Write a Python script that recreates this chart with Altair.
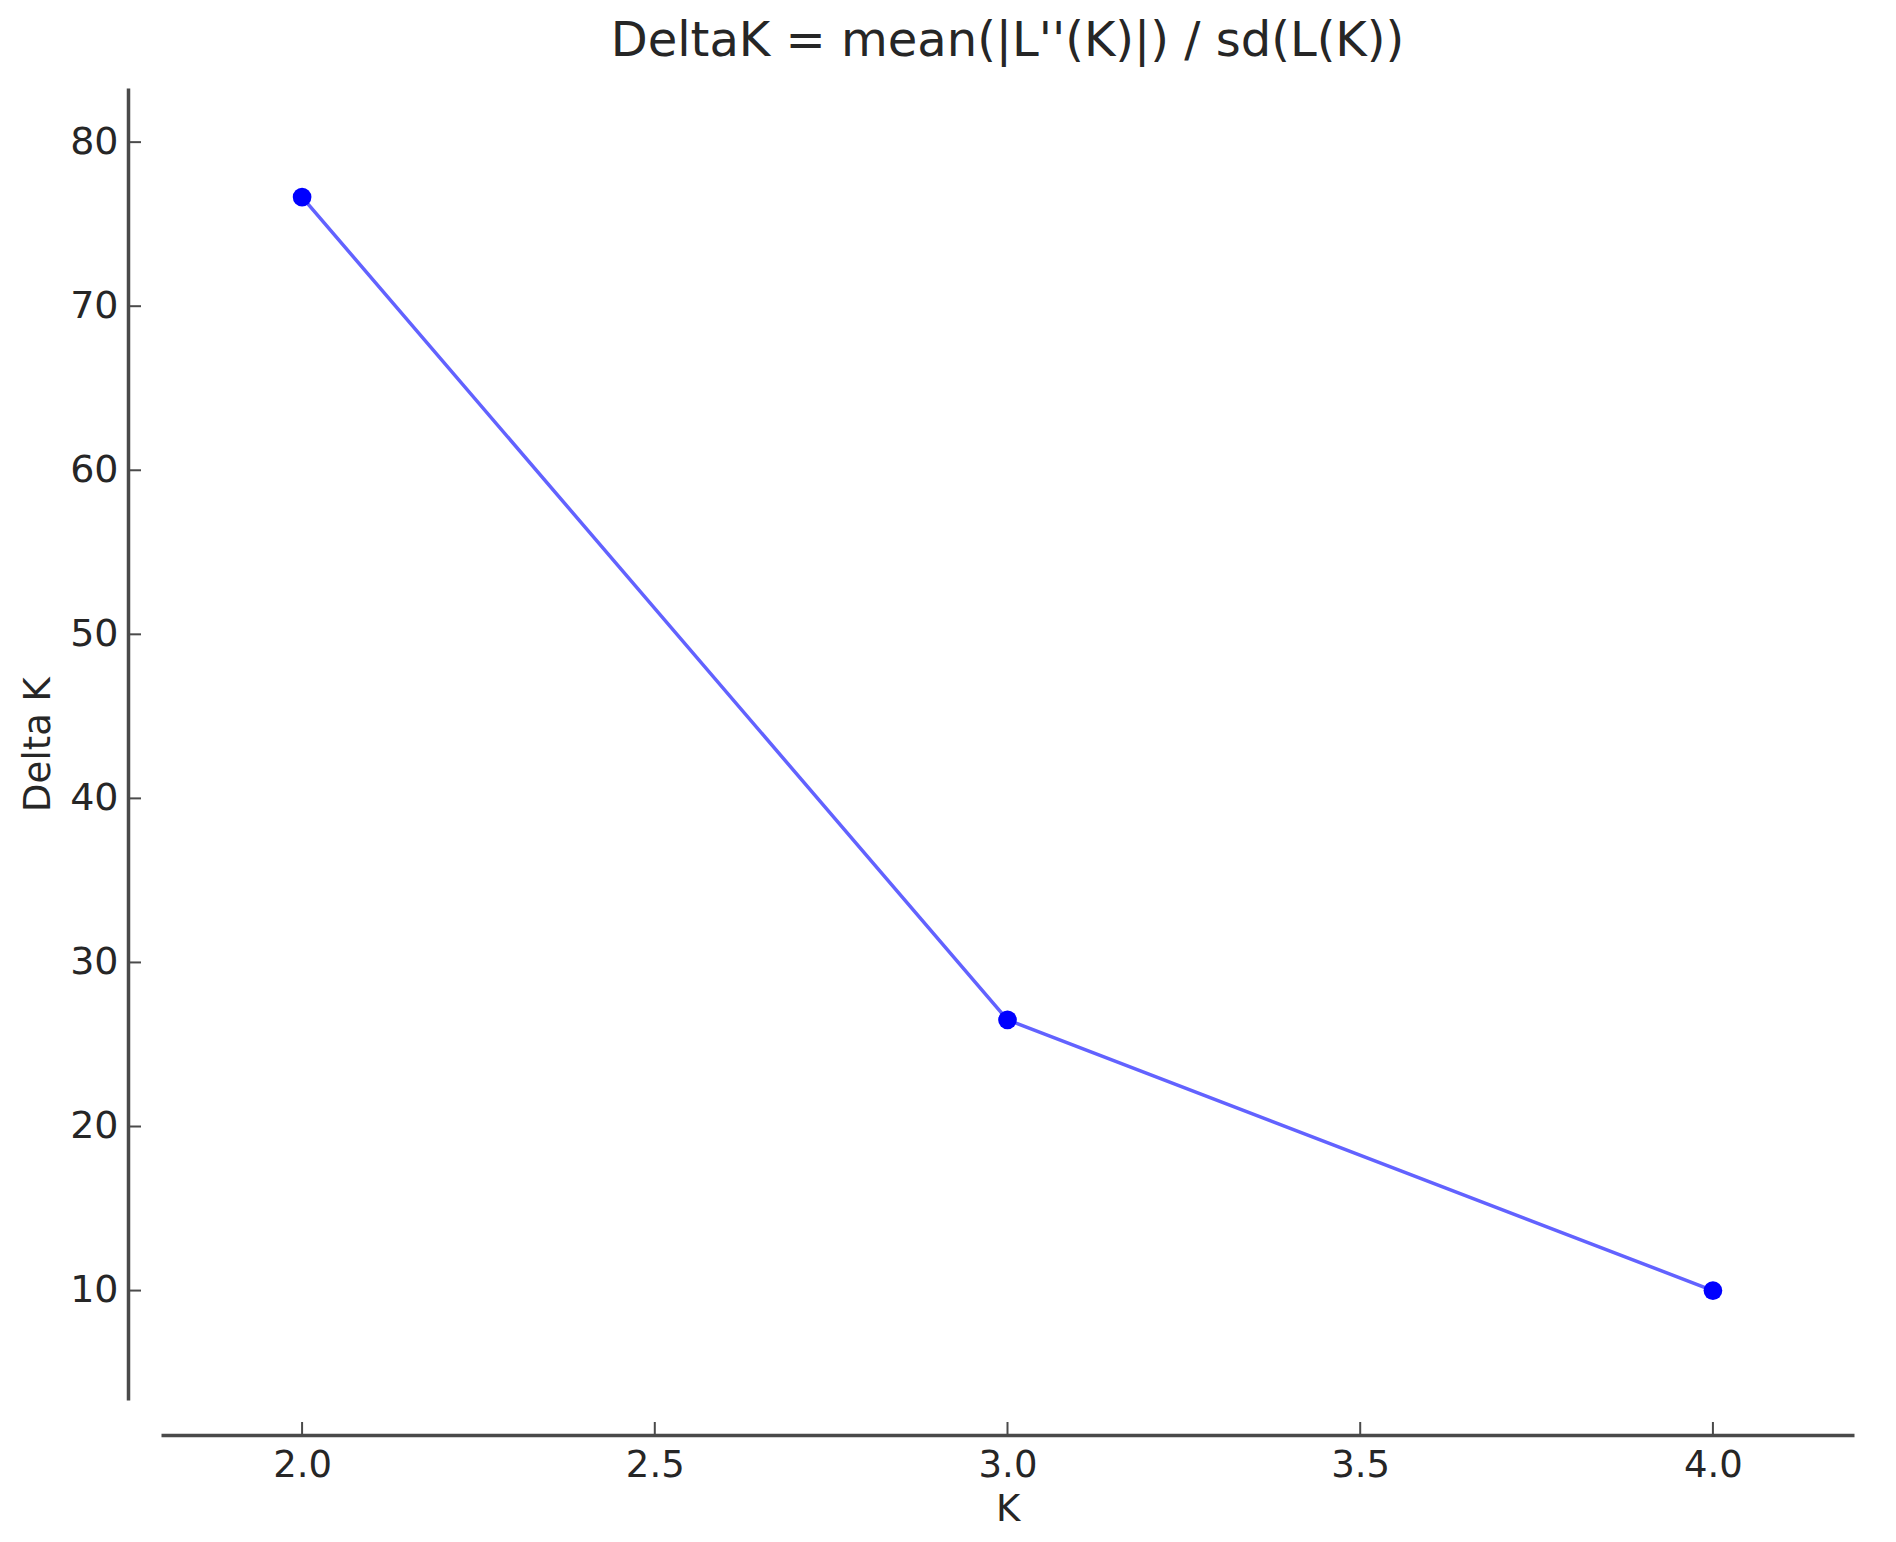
import altair as alt
import pandas as pd

K = [2, 3, 4]
delta_k = [76.65, 26.5, 10.0]
x_ticks = [2.0, 2.5, 3.0, 3.5, 4.0]
y_ticks = [10, 20, 30, 40, 50, 60, 70, 80]

df = pd.DataFrame({"K": K, "DeltaK": delta_k})
dfx = pd.DataFrame({"K": x_ticks})
dfy = pd.DataFrame({"DeltaK": y_ticks})

W, H = 1693, 1312
FONT = "DejaVu Sans"
AX = "#4a4a4a"
TXT = "#262626"

xscale = alt.Scale(domain=[1.8, 4.2], nice=False, zero=False)
yscale = alt.Scale(domain=[3.33, 83.3], nice=False, zero=False)

xaxis = alt.Axis(values=x_ticks, format=".1f", title="K", grid=False,
                 offset=35, tickSize=0, labelPadding=12, labelFontSize=37,
                 labelFont=FONT, labelColor=TXT, titleFont=FONT, titleFontSize=37,
                 titleFontWeight="normal", titleColor=TXT, titlePadding=8,
                 domainColor=AX, domainWidth=3.5)
yaxis = alt.Axis(values=y_ticks, format="d", title="Delta K", grid=False,
                 offset=33, tickSize=0, labelPadding=10, labelFontSize=38,
                 labelFont=FONT, labelColor=TXT, titleFont=FONT, titleFontSize=37,
                 titleFontWeight="normal", titleColor=TXT, titlePadding=12,
                 domainColor=AX, domainWidth=3.5)

base = alt.Chart(df)
line = base.mark_line(color="#6262ff", strokeWidth=3.5).encode(
    x=alt.X("K:Q", scale=xscale, axis=xaxis),
    y=alt.Y("DeltaK:Q", scale=yscale, axis=yaxis),
)
pts = base.mark_point(filled=True, color="#0000ff", size=350, opacity=1).encode(
    x=alt.X("K:Q", scale=xscale, axis=xaxis),
    y=alt.Y("DeltaK:Q", scale=yscale, axis=yaxis),
)

xt = alt.Chart(dfx).mark_rule(color=AX, strokeWidth=2).encode(
    x=alt.X("K:Q", scale=xscale, axis=xaxis),
    y=alt.value(H + 35),
    y2=alt.value(H + 35 - 13),
)
yt = alt.Chart(dfy).mark_rule(color=AX, strokeWidth=2).encode(
    y=alt.Y("DeltaK:Q", scale=yscale, axis=yaxis),
    x=alt.value(-33),
    x2=alt.value(-20),
)

chart = alt.layer(line, pts, xt, yt).properties(
    width=W, height=H,
    background="white",
    title=alt.Title("DeltaK = mean(|L''(K)|) / sd(L(K))", font=FONT, fontSize=48,
                    fontWeight="normal", color=TXT, anchor="middle", offset=22),
    autosize=alt.AutoSizeParams(type="none"),
    padding={"left": 153, "top": 80, "right": 34, "bottom": 140},
).configure_view(strokeWidth=0, stroke=None)

chart.save("out.html", embed_options={"renderer": "svg", "actions": False})
